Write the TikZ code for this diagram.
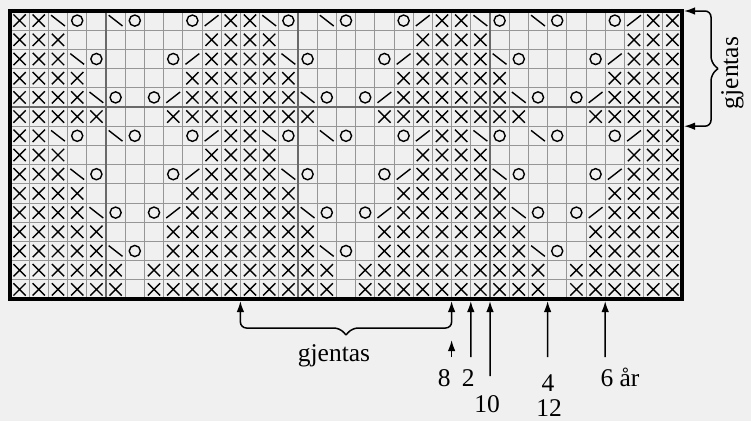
\documentclass[tikz,border=0pt]{standalone}
\usepackage{fontspec}
\setmainfont{Liberation Serif}
\usepackage{xcolor}
\usepackage{tikz}
\usetikzlibrary{arrows.meta, calc}

\definecolor{chartbg}{RGB}{240,240,240}
\definecolor{gridgray}{RGB}{150,150,150}
\definecolor{majorgray}{RGB}{105,105,105}

% one 11-stitch pattern repeat, laid across the 35 columns of the given rows
\newcommand\chartrow[2]{%
  \foreach \r in {#1}{%
    \foreach \s [count=\c] in {#2}{%
      \foreach \k in {0,11,22,33}{%
        \pgfmathtruncatemacro\cc{\c+\k}%
        \ifnum\cc<36
          \if x\s \draw[stitch] (\cc-0.82,\r-0.82) -- (\cc-0.18,\r-0.18) (\cc-0.82,\r-0.18) -- (\cc-0.18,\r-0.82);\fi
          \if l\s \draw[stitch] (\cc-0.86,\r-0.78) -- (\cc-0.14,\r-0.22);\fi
          \if r\s \draw[stitch] (\cc-0.86,\r-0.22) -- (\cc-0.14,\r-0.78);\fi
          \if o\s \draw[stitch] (\cc-0.5,\r-0.5) circle[radius=0.29];\fi
        \fi}}}}

\begin{document}
\begin{tikzpicture}[
    x=1pt, y=-1pt,
    every node/.style={font=\fontsize{25.5}{29}\selectfont, inner sep=0pt},
    gridline/.style={draw=gridgray, line width=0.9pt},
    majorline/.style={draw=majorgray, line width=1.8pt},
    border/.style={draw=black, line width=3.6pt},
    stitch/.style={draw=black, line width=1.4pt},
    arr/.style={-{Latex[length=11pt,width=7.5pt]}, line width=1.5pt, shorten >=2pt},
    bracearr/.style={arr, rounded corners=6pt},
    lbl/.style={anchor=base},
]
\fill[chartbg] (0,0) rectangle (751,421);
\useasboundingbox (0,0) rectangle (751,421);

% ---------- chart (35 stitches x 15 rows) ----------
\begin{scope}[shift={(10,11)}, x=19.2pt, y=-19.2pt]
\foreach \i in {1,...,34} \draw[gridline] (\i,0) -- (\i,15);
\foreach \j in {1,...,14} \draw[gridline] (0,\j) -- (35,\j);
\foreach \i in {5,15,25} \draw[majorline] (\i,0) -- (\i,15);
\draw[majorline] (0,5) -- (35,5);

\chartrow{1,7}{x,x,l,o,e,l,o,e,e,o,r}
\chartrow{2,8}{x,x,x,e,e,e,e,e,e,e,x}
\chartrow{3,9}{x,x,x,l,o,e,e,e,o,r,x}
\chartrow{4,10}{x,x,x,x,e,e,e,e,e,x,x}
\chartrow{5,11}{x,x,x,x,l,o,e,o,r,x,x}
\chartrow{6,12}{x,x,x,x,x,e,e,e,x,x,x}
\chartrow{13}{x,x,x,x,x,l,o,e,x,x,x}
\chartrow{14,15}{x,x,x,x,x,x,e,x,x,x,x}

\draw[border] (0,0) rectangle (35,15);

% arrow targets on the chart edge
\coordinate (top0) at (35,0);
\coordinate (top6) at (35,6);
\coordinate (b12) at (12,15);
\coordinate (b23) at (23,15);
\coordinate (b24) at (24,15);
\coordinate (b25) at (25,15);
\coordinate (b28) at (28,15);
\coordinate (b31) at (31,15);
\end{scope}

% ---------- row repeat (right) ----------
\coordinate (rtip) at (718,68.6);
\draw[bracearr] (rtip) -- ++(-7,-6) |- (top0);
\draw[bracearr] (rtip) -- ++(-7,6) |- (top6);
\node[lbl, rotate=90] (reprow) at (738,73) {gjentas};

% ---------- stitch repeat (bottom) ----------
\coordinate (btip) at (346,335);
\draw[bracearr] (btip) -- ++(-6,-7) -| (b12);
\draw[bracearr] (btip) -- ++(6,-7) -| (b23);
\node[lbl] (rep) at (334,361.5) {gjentas};

% ---------- sizes ----------
\node[lbl] (n8) at (444.3,386.7) {8};
\node[lbl] (n2) at (468.3,386.7) {2};
\node[lbl] (n10) at (487,412.5) {10};
\node[lbl] (n4) at (548,391.5) {4};
\node[lbl] (n12) at (549,416.5) {12};
\node[lbl] (n6) at (620,386.7) {6 år};

\coordinate (s8) at (451.6,357);
\coordinate (e8) at (451.6,338);
\coordinate (s2) at (470.8,357);
\coordinate (s10) at (490,376);
\coordinate (s4) at (547.6,357);
\coordinate (s6) at (605.2,357);
\draw[arr] (s8) -- (e8);
\draw[arr] (s2) -- (b24);
\draw[arr] (s10) -- (b25);
\draw[arr] (s4) -- (b28);
\draw[arr] (s6) -- (b31);

\end{tikzpicture}
\end{document}
